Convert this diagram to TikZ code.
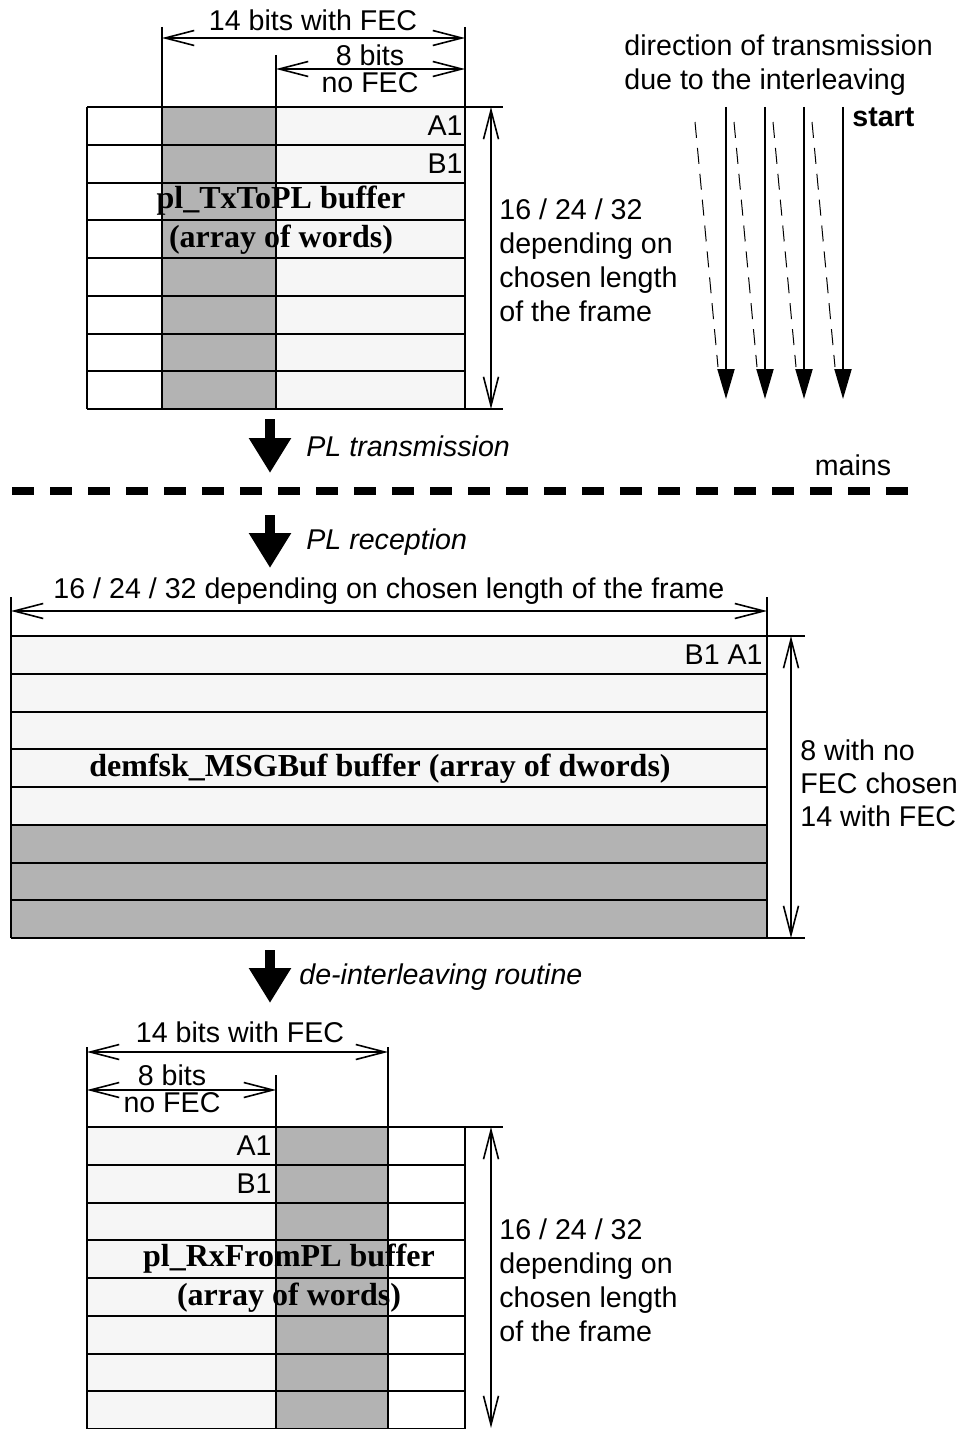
\documentclass[tikz,border=0pt]{standalone}
\usepackage{fontspec}
\setmainfont{Liberation Sans}
\newfontfamily\bufserif{Liberation Serif}
\usepackage{xcolor}
\definecolor{CellGray}{RGB}{179,179,179}
\definecolor{CellLight}{RGB}{246,246,246}
\usetikzlibrary{arrows.meta}

\begin{document}
\begin{tikzpicture}[
    x=0.5pt, y=-0.5pt,
    grid/.style={
        draw=black, line width=1pt
    },
    dimline/.style={
        {Straight Barb[length=14.5pt,width=7.5pt]}-{Straight Barb[length=14.5pt,width=7.5pt]},
        line width=0.8pt
    },
    flowarrow/.style={
        -{Triangle[length=17.5pt,width=20pt]}, line width=5pt
    },
    txarrow/.style={
        -{Triangle[length=15pt,width=8.5pt]}, line width=1pt
    },
    ghost/.style={
        line width=0.5pt, dash pattern=on 8pt off 5pt
    },
    mainsline/.style={
        line width=4pt, dash pattern=on 11pt off 8pt
    },
    lbl/.style={
        inner sep=1pt, font=\fontsize{14.3pt}{17pt}\selectfont
    },
    steplbl/.style={
        lbl, anchor=west, font=\fontsize{14.3pt}{17pt}\selectfont\itshape
    },
    buflabel/.style={
        inner sep=1pt, align=center,
        font=\fontsize{16pt}{19.5pt}\selectfont\bufserif\bfseries
    }
]
\useasboundingbox (0,0) rectangle (976,1429);

% ====== TX BUFFER (pl_TxToPL) ======
\fill[CellGray]  (162,107) rectangle (276,409);
\fill[CellLight] (276,107) rectangle (465,409);
\foreach \i in {0,...,8}
    \draw[grid] (87,107+\i*37.75) -- (465,107+\i*37.75);
\draw[grid] (465,107) -- (503,107);
\draw[grid] (465,409) -- (503,409);
\draw[grid] (87,107)  -- (87,409);
\draw[grid] (162,27)  -- (162,409);
\draw[grid] (276,55)  -- (276,409);
\draw[grid] (465,27)  -- (465,409);

\coordinate (txW0) at (162,38);
\coordinate (txW1) at (465,38);
\coordinate (txN0) at (276,69);
\coordinate (txN1) at (465,69);
\coordinate (txH0) at (491,107);
\coordinate (txH1) at (491,409);
\draw[dimline] (txW0) -- (txW1);
\draw[dimline] (txN0) -- (txN1);
\draw[dimline] (txH0) -- (txH1);

\node[lbl] (txfec)   at (313,20) {14 bits with FEC};
\node[lbl, align=center, font=\fontsize{14.3pt}{13.5pt}\selectfont]
      (txnofec) at (370,69) {8 bits\\no FEC};
\node[lbl, anchor=east] (txA1) at (465,126) {A1};
\node[lbl, anchor=east] (txB1) at (465,164) {B1};
\node[buflabel] (txbuf) at (281,220) {pl\_TxToPL buffer\\(array of words)};
\node[lbl, anchor=west, align=left] (txlen) at (497,260)
      {16 / 24 / 32\\depending on\\chosen length\\of the frame};

% ====== INTERLEAVING DIRECTION ======
\node[lbl, anchor=west, align=left] (dirtext) at (622,65)
      {direction of transmission\\due to the interleaving};
\node[lbl, anchor=west, font=\fontsize{14.3pt}{17pt}\selectfont\bfseries]
      (start) at (850,117) {start};
\foreach \x in {726,765,804,843} {
    \draw[txarrow] (\x,107) -- (\x,399);
    \draw[ghost] (\x-31,122) -- (\x-8,367);
}

% ====== MAINS ======
\draw[flowarrow] (270,419) -- (270,473);
\node[steplbl] (pltx) at (304,446) {PL transmission};
\draw[mainsline] (12,491) -- (922,491);
\node[lbl] (mains) at (853,465) {mains};
\draw[flowarrow] (270,515) -- (270,568);
\node[steplbl] (plrx) at (304,542) {PL reception};

% ====== RX BUFFER (demfsk_MSGBuf) ======
\fill[CellLight] (11,636) rectangle (767,825);
\fill[CellGray]  (11,825) rectangle (767,938);
\foreach \i in {0,...,8}
    \draw[grid] (11,636+\i*37.75) -- (767,636+\i*37.75);
\draw[grid] (767,636) -- (805,636);
\draw[grid] (767,938) -- (805,938);
\draw[grid] (11,597)  -- (11,938);
\draw[grid] (767,597) -- (767,938);

\coordinate (msgW0) at (11,611);
\coordinate (msgW1) at (767,611);
\coordinate (msgH0) at (791,636);
\coordinate (msgH1) at (791,938);
\draw[dimline] (msgW0) -- (msgW1);
\draw[dimline] (msgH0) -- (msgH1);

\node[lbl] (msglen) at (389,591) {16 / 24 / 32 depending on chosen length of the frame};
\node[lbl, anchor=east] (msgBA) at (765,655) {B1 A1};
\node[buflabel] (msgbuf) at (380,769) {demfsk\_MSGBuf buffer (array of dwords)};
\node[lbl, anchor=west, align=left, font=\fontsize{14.3pt}{16.5pt}\selectfont]
      (msgrows) at (798,783) {8 with no\\FEC chosen\\14 with FEC};

% ====== DE-INTERLEAVING ======
\draw[flowarrow] (270,950) -- (270,1003);
\node[steplbl] (deint) at (297,977) {de-interleaving routine};

% ====== RX WORD BUFFER (pl_RxFromPL) ======
\fill[CellLight] (87,1127)  rectangle (276,1429);
\fill[CellGray]  (276,1127) rectangle (388,1429);
\foreach \i in {0,...,8}
    \draw[grid] (87,1127+\i*37.75) -- (465,1127+\i*37.75);
\draw[grid] (465,1127) -- (503,1127);
\draw[grid] (87,1047)  -- (87,1429);
\draw[grid] (276,1075) -- (276,1429);
\draw[grid] (388,1047) -- (388,1429);
\draw[grid] (465,1127) -- (465,1429);

\coordinate (rxW0) at (87,1052);
\coordinate (rxW1) at (388,1052);
\coordinate (rxN0) at (87,1090);
\coordinate (rxN1) at (276,1090);
\coordinate (rxH0) at (491,1127);
\coordinate (rxH1) at (491,1428);
\draw[dimline] (rxW0) -- (rxW1);
\draw[dimline] (rxN0) -- (rxN1);
\draw[dimline] (rxH0) -- (rxH1);

\node[lbl] (rxfec) at (240,1032) {14 bits with FEC};
\node[lbl, align=center, font=\fontsize{14.3pt}{13.5pt}\selectfont]
      (rxnofec) at (172,1089) {8 bits\\no FEC};
\node[lbl, anchor=east] (rxA1) at (274,1146) {A1};
\node[lbl, anchor=east] (rxB1) at (274,1184) {B1};
\node[buflabel] (rxbuf) at (289,1278) {pl\_RxFromPL buffer\\(array of words)};
\node[lbl, anchor=west, align=left] (rxlen) at (497,1280)
      {16 / 24 / 32\\depending on\\chosen length\\of the frame};

\end{tikzpicture}
\end{document}
